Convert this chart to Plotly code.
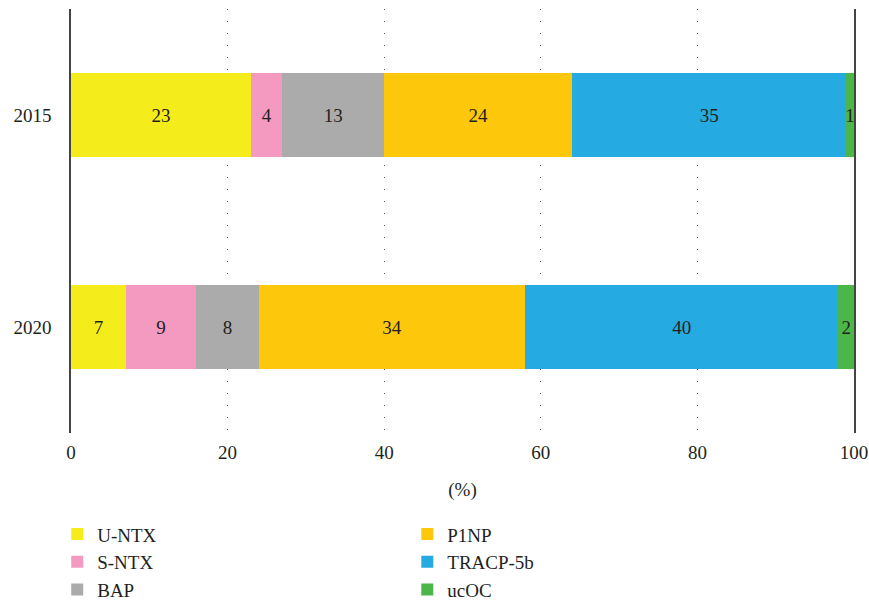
import plotly.graph_objects as go

years = ["2015", "2020"]
markers = ["U-NTX", "S-NTX", "BAP", "P1NP", "TRACP-5b", "ucOC"]
values = {
    "U-NTX": [23, 7],
    "S-NTX": [4, 9],
    "BAP": [13, 8],
    "P1NP": [24, 34],
    "TRACP-5b": [35, 40],
    "ucOC": [1, 2],
}
colors = ["#F5EC1C", "#F49AC0", "#ABABAB", "#FDC70C", "#25AAE1", "#4BB748"]
x_ticks = [0, 20, 40, 60, 80, 100]

FONT = "Liberation Serif"
TXT = "#231F20"

fig = go.Figure()
for i, (name, col) in enumerate(zip(markers, colors)):
    vals = values[name]
    fig.add_trace(go.Bar(
        y=years, x=vals, name=name, orientation="h",
        marker=dict(color=col, line=dict(width=0)),
        text=[str(v) for v in vals], textposition="inside",
        insidetextanchor="middle", textangle=0, constraintext="none",
        textfont=dict(family=FONT, size=19, color=TXT),
        width=0.4,
        legend="legend" if i < 3 else "legend2",
    ))

fig.update_layout(
    barmode="stack",
    width=869, height=605,
    margin=dict(l=71, r=15, t=9, b=172, autoexpand=False),
    paper_bgcolor="white", plot_bgcolor="white",
    font=dict(family=FONT, size=19, color=TXT),
    xaxis=dict(
        range=[0, 100], tickvals=x_ticks, ticks="",
        showgrid=True, gridcolor="#555555", gridwidth=1.4, griddash="1.4px,10.6px",
        zeroline=False, showline=False,
        ticklabelstandoff=6,
        title=dict(text="(%)", standoff=20, font=dict(family=FONT, size=19, color=TXT)),
        fixedrange=True,
    ),
    yaxis=dict(
        categoryorder="array", categoryarray=years[::-1],
        range=[-0.5, 1.5], ticks="", showgrid=False, zeroline=False,
        showline=True, mirror=True, linecolor="#444444", linewidth=1.5,
        ticklabelstandoff=14,
    ),
    legend=dict(
        x=-0.0176, y=-0.194, xanchor="left", yanchor="top",
        orientation="v", traceorder="normal",
        font=dict(family=FONT, size=19, color=TXT),
        bgcolor="rgba(0,0,0,0)",
    ),
    legend2=dict(
        x=0.4295, y=-0.194, xanchor="left", yanchor="top",
        orientation="v", traceorder="normal",
        font=dict(family=FONT, size=19, color=TXT),
        bgcolor="rgba(0,0,0,0)",
    ),
    showlegend=True,
)

fig.write_html("out.html")
